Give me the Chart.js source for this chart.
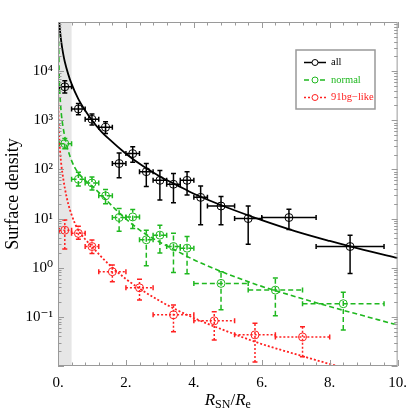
<!DOCTYPE html>
<html><head><meta charset="utf-8">
<script src="https://cdn.jsdelivr.net/npm/chart.js@4/dist/chart.umd.min.js"></script>
<style>html,body{margin:0;padding:0;background:#fff}#wrap{width:415px;height:414px}</style>
</head><body><div id="wrap"><canvas id="c" width="415" height="414"></canvas></div>
<script>
// ---------- data ----------
const seriesNames = ['all', 'normal', '91bg\u2212like'];
const xTickValues = [0, 2, 4, 6, 8, 10];
const xTickLabels = ['0.', '2.', '4.', '6.', '8.', '10.'];
const yTickValues = [0.1, 1, 10, 100, 1000, 10000];
const yTickLabels = ['10\u207B\u00B9', '10\u2070', '10\u00B9', '10\u00B2', '10\u00B3', '10\u2074'];
const bandRange = [0, 0.4];

// "all" data points
const allX    = [0.2, 0.6, 1.0, 1.4, 1.8, 2.2, 2.6, 3.0, 3.4, 3.8, 4.2, 4.8, 5.6, 6.8, 8.6];
const allY    = [4800, 1700, 1050, 720, 132, 210, 90, 60, 50, 60, 27, 18, 10, 10.5, 2.7];
const allYLo  = [3600, 1300, 800, 540, 68, 140, 45, 24, 21, 30, 7.5, 7.5, 3.0, 6.0, 0.76];
const allYHi  = [6400, 2200, 1350, 930, 215, 290, 132, 95, 83, 90, 46, 28, 18, 15.5, 4.6];
const allXLo  = [0.04, 0.4, 0.8, 1.2, 1.6, 2.0, 2.4, 2.8, 3.2, 3.6, 4.0, 4.4, 5.2, 6.0, 7.6];
const allXHi  = [0.4, 0.8, 1.2, 1.6, 2.0, 2.4, 2.8, 3.2, 3.6, 4.0, 4.4, 5.2, 6.0, 7.6, 9.6];

// "normal" data points
const normX   = [0.2, 0.6, 1.0, 1.4, 1.8, 2.2, 2.6, 3.0, 3.4, 3.8, 4.8, 6.4, 8.4];
const normY   = [335, 63, 53, 29, 10.5, 10.8, 3.7, 4.6, 2.7, 2.5, 0.48, 0.35, 0.185];
const normYLo = [265, 46, 38, 20, 5.5, 6.3, 1.1, 2.0, 0.8, 0.75, 0.14, 0.105, 0.054];
const normYHi = [425, 88, 70, 39, 16, 15.3, 5.8, 7.3, 5.0, 4.3, 0.83, 0.62, 0.315];
const normXLo = [0.04, 0.4, 0.8, 1.2, 1.6, 2.0, 2.4, 2.8, 3.2, 3.6, 4.0, 5.6, 7.2];
const normXHi = [0.4, 0.8, 1.2, 1.6, 2.0, 2.4, 2.8, 3.2, 3.6, 4.0, 5.6, 7.2, 9.6];

// "91bg-like" data points
const bgX     = [0.2, 0.6, 1.0, 1.6, 2.4, 3.4, 4.6, 5.8, 7.2];
const bgY     = [5.8, 5.0, 2.7, 0.83, 0.39, 0.11, 0.083, 0.043, 0.039];
const bgYLo   = [2.4, 3.8, 1.95, 0.52, 0.22, 0.05, 0.034, 0.012, 0.0155];
const bgYHi   = [9.3, 7.0, 3.65, 1.13, 0.58, 0.175, 0.127, 0.074, 0.063];
const bgXLo   = [0.04, 0.4, 0.8, 1.2, 2.0, 2.8, 4.0, 5.2, 6.4];
const bgXHi   = [0.4, 0.8, 1.2, 2.0, 2.8, 4.0, 5.2, 6.4, 8.0];

// fitted curves
const allFitX  = [0.035, 0.06, 0.1, 0.15, 0.2, 0.3, 0.4, 0.6, 0.8, 1.0, 1.25, 1.5, 2.0, 2.5, 3.0, 3.5, 4.0, 5.0, 6.0, 7.0, 8.0, 9.0, 10.0];
const allFitY  = [110000, 66000, 38000, 22900, 15500, 8700, 5500, 2690, 1580, 1000, 617, 417, 209, 117, 72, 48, 32, 16.6, 9.3, 5.5, 3.5, 2.3, 1.58];
const normFitX = [0.012, 0.02, 0.04, 0.07, 0.1, 0.15, 0.22, 0.3, 0.4, 0.5, 0.6, 0.8, 1.0, 1.25, 1.5, 1.75, 2.0, 2.5, 3.0, 3.5, 4.0, 4.5, 5.0, 5.5, 6.0, 7.0, 8.0, 9.0, 10.0];
const normFitY = [126000, 31600, 6300, 2400, 1320, 720, 400, 240, 151, 107, 85, 60, 46, 31.6, 21, 14.1, 9.8, 5.25, 3.3, 2.19, 1.45, 1.02, 0.74, 0.55, 0.417, 0.257, 0.162, 0.105, 0.068];
const bgFitX   = [0.002, 0.01, 0.02, 0.04, 0.07, 0.1, 0.15, 0.2, 0.3, 0.4, 0.5, 0.6, 0.8, 1.0, 1.25, 1.5, 2.0, 2.5, 3.0, 3.5, 4.0, 5.0, 6.0, 7.0, 8.0, 8.5];
const bgFitY   = [7000, 2000, 1000, 400, 200, 120, 68, 42, 20, 12, 7.9, 5.75, 3.8, 2.7, 1.74, 1.17, 0.59, 0.34, 0.21, 0.138, 0.095, 0.05, 0.028, 0.0174, 0.011, 0.0089];

// ---------- styling ----------
const SERIF = '"Liberation Serif", "DejaVu Serif", serif';
const BLACK = '#000000', GREEN = '#1fb81f', RED = '#ff2020';
const dashes = { solid: [], dashed: [5, 3], dotted: [2, 2] };

const pts = (xs, ys) => xs.map((v, i) => ({ x: v, y: ys[i] }));

function pointSet(label, xs, ys, xlo, xhi, ylo, yhi, color, dash) {
  return {
    label, data: pts(xs, ys), showLine: false,
    pointRadius: 4, pointHoverRadius: 4, pointBorderWidth: 1,
    pointBackgroundColor: 'rgba(0,0,0,0)', pointBorderColor: color,
    borderColor: color, backgroundColor: color,
    err: { xlo, xhi, ylo, yhi, dash }, order: 0
  };
}
function fitSet(label, xs, ys, color, dash, w) {
  return {
    label, data: pts(xs, ys), showLine: true, pointRadius: 0, pointHoverRadius: 0,
    borderColor: color, borderWidth: w, borderDash: dash, fill: false,
    cubicInterpolationMode: 'monotone', order: 1
  };
}

const datasets = [
  fitSet(seriesNames[0] + ' fit', allFitX, allFitY, BLACK, dashes.solid, 1.8),
  fitSet(seriesNames[1] + ' fit', normFitX, normFitY, GREEN, dashes.dashed, 1.6),
  fitSet(seriesNames[2] + ' fit', bgFitX, bgFitY, RED, dashes.dotted, 1.8),
  pointSet(seriesNames[0], allX, allY, allXLo, allXHi, allYLo, allYHi, BLACK, dashes.solid),
  pointSet(seriesNames[1], normX, normY, normXLo, normXHi, normYLo, normYHi, GREEN, dashes.dashed),
  pointSet(seriesNames[2], bgX, bgY, bgXLo, bgXHi, bgYLo, bgYHi, RED, dashes.dotted)
];

const bandPlugin = {
  id: 'band',
  beforeDatasetsDraw(chart) {
    const { ctx, chartArea: a, scales: { x } } = chart;
    const x0 = x.getPixelForValue(bandRange[0]), x1 = x.getPixelForValue(bandRange[1]);
    ctx.save(); ctx.fillStyle = '#e6e6e6';
    ctx.fillRect(x0, a.top, x1 - x0, a.bottom - a.top);
    ctx.restore();
  }
};

const errPlugin = {
  id: 'errbars',
  beforeDatasetsDraw(chart) {
    const { ctx, chartArea: a, scales: { x, y } } = chart;
    ctx.save();
    ctx.beginPath(); ctx.rect(a.left, a.top, a.width, a.height); ctx.clip();
    chart.data.datasets.forEach(ds => {
      if (!ds.err) return;
      const e = ds.err, cap = 2.5;
      ctx.strokeStyle = ds.borderColor; ctx.lineWidth = 1.5;
      ds.data.forEach((p, i) => {
        const px = x.getPixelForValue(p.x), py = y.getPixelForValue(p.y);
        const xl = x.getPixelForValue(e.xlo[i]), xh = x.getPixelForValue(e.xhi[i]);
        const yl = y.getPixelForValue(e.ylo[i]), yh = y.getPixelForValue(e.yhi[i]);
        ctx.setLineDash(e.dash);
        ctx.beginPath();
        ctx.moveTo(xl, py); ctx.lineTo(xh, py);
        ctx.moveTo(px, yl); ctx.lineTo(px, yh);
        ctx.stroke();
        ctx.setLineDash([]);
        ctx.beginPath();
        ctx.moveTo(xl, py - cap); ctx.lineTo(xl, py + cap);
        ctx.moveTo(xh, py - cap); ctx.lineTo(xh, py + cap);
        ctx.moveTo(px - cap, yl); ctx.lineTo(px + cap, yl);
        ctx.moveTo(px - cap, yh); ctx.lineTo(px + cap, yh);
        ctx.stroke();
      });
    });
    ctx.restore();
  }
};

const framePlugin = {
  id: 'frame',
  afterDraw(chart) {
    const { ctx, chartArea: a, scales: { x, y } } = chart;
    ctx.save();
    ctx.strokeStyle = '#9a9a9a'; ctx.lineWidth = 1;
    ctx.strokeRect(a.left + 0.5, a.top + 0.5, a.width - 1, a.height - 1);
    ctx.beginPath();
    for (let k = 0; k <= 25; k++) {
      const v = k * 0.4, px = Math.round(x.getPixelForValue(v)) + 0.5;
      const len = (k % 5 === 0) ? 6 : 3.5;
      ctx.moveTo(px, a.bottom); ctx.lineTo(px, a.bottom - len);
      ctx.moveTo(px, a.top); ctx.lineTo(px, a.top + len);
    }
    for (let e = -2; e <= 4; e++) {
      for (let m = 1; m <= 9; m++) {
        const v = m * Math.pow(10, e), py = Math.round(y.getPixelForValue(v)) + 0.5;
        const len = m === 1 ? 6 : 3.5;
        ctx.moveTo(a.left, py); ctx.lineTo(a.left + len, py);
        ctx.moveTo(a.right, py); ctx.lineTo(a.right - len, py);
      }
    }
    ctx.stroke();
    ctx.restore();

    // axis titles
    ctx.save();
    ctx.fillStyle = '#000';
    ctx.font = '18px ' + SERIF;
    ctx.textAlign = 'center'; ctx.textBaseline = 'middle';
    ctx.translate(13, (a.top + a.bottom) / 2);
    ctx.rotate(-Math.PI / 2);
    ctx.fillText('Surface density', 0, 0);
    ctx.restore();

    ctx.save();
    ctx.fillStyle = '#000'; ctx.textBaseline = 'alphabetic'; ctx.textAlign = 'left';
    const parts = [
      { t: 'R', f: 'italic 17px ' + SERIF, dy: 0 },
      { t: 'SN', f: '12px ' + SERIF, dy: 3 },
      { t: '/', f: '17px ' + SERIF, dy: 0 },
      { t: 'R', f: 'italic 17px ' + SERIF, dy: 0 },
      { t: 'e', f: '12px ' + SERIF, dy: 3 }
    ];
    let total = 0;
    parts.forEach(p => { ctx.font = p.f; p.w = ctx.measureText(p.t).width; total += p.w; });
    let cx = (a.left + a.right) / 2 - total / 2;
    const base = 405;
    parts.forEach(p => { ctx.font = p.f; ctx.fillText(p.t, cx, base + p.dy); cx += p.w; });
    ctx.restore();

    // legend
    const L = a.left + 238, T = a.top + 28, W = 79, H = 59;
    ctx.save();
    ctx.fillStyle = '#fff'; ctx.fillRect(L, T, W, H);
    ctx.strokeStyle = '#999'; ctx.lineWidth = 1.5;
    ctx.strokeRect(L, T, W, H);
    const items = [
      { name: seriesNames[0], color: BLACK, dash: dashes.solid },
      { name: seriesNames[1], color: GREEN, dash: dashes.dashed },
      { name: seriesNames[2], color: RED, dash: dashes.dotted }
    ];
    items.forEach((it, i) => {
      const yy = T + 12.5 + i * 17.5;
      ctx.strokeStyle = it.color; ctx.lineWidth = 1.5; ctx.setLineDash(it.dash);
      ctx.beginPath(); ctx.moveTo(L + 8, yy); ctx.lineTo(L + 30, yy); ctx.stroke();
      ctx.setLineDash([]); ctx.lineWidth = 1;
      ctx.fillStyle = '#fff';
      ctx.beginPath(); ctx.arc(L + 19, yy, 3, 0, Math.PI * 2); ctx.fill(); ctx.stroke();
      ctx.fillStyle = it.color; ctx.font = '10.5px ' + SERIF;
      ctx.textAlign = 'left'; ctx.textBaseline = 'middle';
      ctx.fillText(it.name, L + 35, yy);
    });
    ctx.restore();
  }
};

new Chart(document.getElementById('c'), {
  type: 'scatter',
  data: { datasets },
  plugins: [bandPlugin, errPlugin, framePlugin],
  options: {
    responsive: false, animation: false, devicePixelRatio: 1,
    layout: { padding: { left: 0, right: 11, top: 22, bottom: 0 } },
    plugins: { legend: { display: false }, tooltip: { enabled: false } },
    scales: {
      x: {
        type: 'linear', min: 0, max: 10,
        grid: { display: false, drawTicks: false },
        border: { display: false },
        afterFit: s => { s.height = 48; },
        afterBuildTicks: s => { s.ticks = xTickValues.map(v => ({ value: v })); },
        ticks: {
          padding: 8, color: '#000', font: { family: SERIF, size: 15 },
          maxRotation: 0, autoSkip: false,
          callback: (v) => { const i = xTickValues.indexOf(v); return i >= 0 ? xTickLabels[i] : ''; }
        }
      },
      y: {
        type: 'logarithmic', min: 0.01, max: 100000,
        grid: { display: false, drawTicks: false },
        border: { display: false },
        afterFit: s => { s.width = 58; },
        afterBuildTicks: s => { s.ticks = yTickValues.map(v => ({ value: v })); },
        ticks: {
          padding: 5, color: '#000', font: { family: SERIF, size: 15 }, autoSkip: false,
          callback: (v) => { const i = yTickValues.findIndex(t => Math.abs(t - v) / t < 1e-6); return i >= 0 ? yTickLabels[i] : ''; }
        }
      }
    }
  }
});
</script></body></html>
